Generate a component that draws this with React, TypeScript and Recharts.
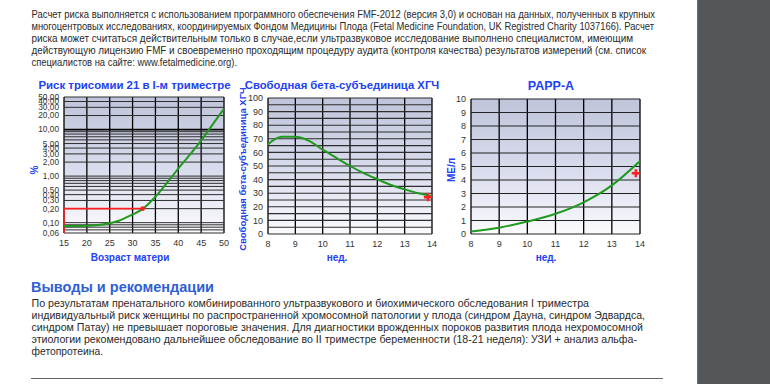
import React from "react";
import {
  ComposedChart,
  Line,
  Scatter,
  XAxis,
  YAxis,
  CartesianGrid,
  ReferenceLine,
} from "recharts";

// ---------- Text content ----------
const introLines = [
  "Расчет риска выполняется с использованием программного обеспечения FMF-2012 (версия 3,0) и основан на данных, полученных в крупных",
  "многоцентровых исследованиях, координируемых Фондом Медицины Плода (Fetal Medicine Foundation, UK Registred Charity 1037166). Расчет",
  "риска может считаться действительным только в случае,если ультразвуковое исследование выполнено специалистом, имеющим",
  "действующую лицензию FMF и своевременно проходящим процедуру аудита (контроля качества) результатов измерений (см. список",
  "специалистов на сайте: www.fetalmedicine.org).",
];
const conclusionTitle = "Выводы и рекомендации";
const conclusionLines = [
  "По результатам пренатального комбинированного ультразвукового и биохимического обследования I триместра",
  "индивидуальный риск женщины по распространенной хромосомной патологии у плода (синдром Дауна, синдром Эдвардса,",
  "синдром Патау) не превышает пороговые значения. Для диагностики врожденных пороков развития плода нехромосомной",
  "этиологии рекомендовано дальнейшее обследование во II триместре беременности (18-21 неделя): УЗИ + анализ альфа-",
  "фетопротеина.",
];

// ---------- Chart 1: trisomy 21 risk ----------
const riskAges = [15, 18, 20, 22, 25, 27, 30, 32, 35, 38, 40, 42, 45, 48, 50];
const riskValues = [0.085, 0.085, 0.086, 0.088, 0.097, 0.11, 0.15, 0.19, 0.36, 0.82, 1.45, 2.5, 5.8, 15, 28];
const ageTicks = [15, 20, 25, 30, 35, 40, 45, 50];
const riskTicks = [0.06, 0.1, 0.2, 0.3, 0.4, 0.5, 1, 2, 3, 4, 5, 10, 20, 30, 40, 50];
const riskGrid = [
  0.06, 0.07, 0.08, 0.09, 0.1, 0.2, 0.3, 0.4, 0.5, 0.6, 0.7, 0.8, 0.9, 1, 2, 3, 4, 5, 6, 7, 8, 9, 10, 20, 30, 40, 50,
];
const riskDomain = [0.06, 50];
const patientAge = 32.2;
const patientRisk = 0.2;

// ---------- Chart 2: free beta-hCG ----------
const hcgWeeks = [8, 8.5, 9, 9.5, 10, 10.5, 11, 11.5, 12, 12.5, 13, 13.5, 14];
const hcgValues = [66, 71.5, 71.5, 68.5, 62, 56, 50, 44.8, 40.3, 36, 32.8, 30, 28];
const weekTicks = [8, 9, 10, 11, 12, 13, 14];
const hcgTicks = [0, 10, 20, 30, 40, 50, 60, 70, 80, 90, 100];
const hcgGrid = [0, 5, 10, 15, 20, 25, 30, 35, 40, 45, 50, 55, 60, 65, 70, 75, 80, 85, 90, 95, 100];
const hcgPatientWeek = 13.85;
const hcgPatientValue = 27;

// ---------- Chart 3: PAPP-A ----------
const pappWeeks = [8, 9, 10, 11, 12, 13, 14];
const pappValues = [0.18, 0.47, 0.92, 1.5, 2.35, 3.6, 5.4];
const pappTicks = [0, 1, 2, 3, 4, 5, 6, 7, 8, 9, 10];
const pappPatientWeek = 13.85;
const pappPatientValue = 4.5;

const riskData = riskAges.map((x, i) => ({ x, y: riskValues[i] }));
const riskMarkerPath = [
  { x: riskAges[0], y: riskDomain[0] },
  { x: riskAges[0], y: patientRisk },
  { x: patientAge, y: patientRisk },
];
const riskPoint = [{ x: patientAge, y: patientRisk }];
const hcgData = hcgWeeks.map((x, i) => ({ x, y: hcgValues[i] }));
const hcgPoint = [{ x: hcgPatientWeek, y: hcgPatientValue }];
const pappData = pappWeeks.map((x, i) => ({ x, y: pappValues[i] }));
const pappPoint = [{ x: pappPatientWeek, y: pappPatientValue }];

// ---------- layout (text line geometry) ----------
const TEXT_LEFT = 31.5;
const introLayout = { baselines: [18, 29.9, 41.8, 53.7, 65.6], ends: [655, 654, 633, 646, 237] };
const conclLayout = { baselines: [306.6, 318.7, 330.8, 342.9, 355], ends: [589, 645, 643, 637, 103] };

const FONT = '"Liberation Sans", Arial, Helvetica, sans-serif';
const BLUE = "#2141f2";
const GREEN = "#1f9a1f";
const RED = "#ff2020";
const TICK = { fontSize: 9, fill: "#333", fontFamily: FONT };

const Plus = (props: any) => {
  const { cx, cy } = props;
  if (cx == null || cy == null) return null;
  return (
    <path
      d={`M${cx - 4},${cy}h8M${cx},${cy - 4}v8`}
      stroke={RED}
      strokeWidth={2.4}
      fill="none"
    />
  );
};

const Dot = (props: any) => {
  const { cx, cy } = props;
  if (cx == null || cy == null) return null;
  return <circle cx={cx} cy={cy} r={2.3} fill={RED} />;
};

const Grad = ({ id }: { id: string }) => (
  <defs>
    <linearGradient id={id} x1="0" y1="0" x2="0" y2="1">
      <stop offset="0%" stopColor="#bfc4da" />
      <stop offset="55%" stopColor="#dadded" />
      <stop offset="100%" stopColor="#fbfbfe" />
    </linearGradient>
  </defs>
);

const abs = (left: number, top: number, extra: React.CSSProperties = {}): React.CSSProperties => ({
  position: "absolute",
  left,
  top,
  ...extra,
});

const centerText = (
  x: number,
  y: number,
  text: string,
  size: number,
  rotate = false,
  color = BLUE
) => (
  <div
    style={{
      position: "absolute",
      left: x,
      top: y,
      transform: `translate(-50%, -50%)${rotate ? " rotate(-90deg)" : ""}`,
      whiteSpace: "nowrap",
      fontWeight: "bold",
      fontSize: size,
      color,
      fontFamily: FONT,
      lineHeight: 1,
    }}
  >
    {text}
  </div>
);

const Paragraph = ({
  lines,
  layout,
}: {
  lines: string[];
  layout: { baselines: number[]; ends: number[] };
}) => (
  <svg
    width={770}
    height={384}
    style={{ position: "absolute", left: 0, top: 0, pointerEvents: "none" }}
  >
    {lines.map((l, i) => (
      <text
        key={i}
        x={TEXT_LEFT}
        y={layout.baselines[i]}
        fontSize={10.5}
        fontFamily={FONT}
        fill="#2a2a2a"
        textLength={layout.ends[i] - TEXT_LEFT}
        lengthAdjust="spacingAndGlyphs"
      >
        {l}
      </text>
    ))}
  </svg>
);

export default function App() {
  return (
    <div
      style={{
        position: "absolute",
        left: 0,
        top: 0,
        width: 770,
        height: 384,
        background: "#ffffff",
        overflow: "hidden",
        fontFamily: FONT,
      }}
    >
      {/* paragraphs */}
      <Paragraph lines={introLines} layout={introLayout} />
      <Paragraph lines={conclusionLines} layout={conclLayout} />

      {/* chart titles */}
      {centerText(134.5, 86, "Риск трисомии 21 в I-м триместре", 11.4)}
      {centerText(342, 86, "Свободная бета-субъединица ХГЧ", 11.3)}
      {centerText(551, 86, "PAPP-A", 12.5)}

      {/* axis titles */}
      {centerText(35, 170, "%", 10, true)}
      {centerText(130, 258, "Возраст матери", 10)}
      {centerText(243, 169, "Свободная бета-субъединица ХГЧ", 9.5, true)}
      {centerText(337, 258, "нед.", 10)}
      {centerText(452, 170, "МЕ/л", 10, true)}
      {centerText(546, 258, "нед.", 10)}

      {/* Chart 1 */}
      <div style={abs(0, 80)}>
        <ComposedChart width={236} height={190} margin={{ top: 17, right: 12, left: 6, bottom: 17 }}>
          <Grad id="bg1" />
          <CartesianGrid horizontal={false} stroke="#000" strokeWidth={1.3} fill="url(#bg1)" fillOpacity={1} />
          <XAxis
            type="number"
            dataKey="x"
            domain={[ageTicks[0], ageTicks[ageTicks.length - 1]]}
            ticks={ageTicks}
            interval={0}
            tick={TICK}
            tickLine={false}
            axisLine={false}
            tickSize={5}
            tickMargin={2}
            height={20}
            allowDataOverflow
          />
          <YAxis
            type="number"
            scale="log"
            domain={riskDomain}
            ticks={riskTicks}
            interval={0}
            tick={{ ...TICK, fontSize: 8.3 }}
            tickFormatter={(v: number) => v.toFixed(2).replace(".", ",")}
            tickLine={false}
            axisLine={false}
            tickSize={3}
            tickMargin={2}
            width={58}
            allowDataOverflow
          />
          {riskGrid.map((v) => (
            <ReferenceLine
              key={v}
              y={v}
              stroke={v === 10 ? "#000" : "#2e2e2e"}
              strokeWidth={v === 10 ? 1.7 : 1}
            />
          ))}
          <Line data={riskMarkerPath} dataKey="y" type="linear" stroke={RED} strokeWidth={1.6} dot={false} isAnimationActive={false} />
          <Line data={riskData} dataKey="y" type="monotone" stroke={GREEN} strokeWidth={2} dot={false} isAnimationActive={false} />
          <Scatter data={riskPoint} dataKey="y" shape={<Dot />} isAnimationActive={false} />
        </ComposedChart>
      </div>

      {/* Chart 2 */}
      <div style={abs(232, 80)}>
        <ComposedChart width={212} height={190} margin={{ top: 18, right: 12, left: 6, bottom: 16 }}>
          <Grad id="bg2" />
          <CartesianGrid horizontal={false} stroke="#000" strokeWidth={1.3} fill="url(#bg2)" fillOpacity={1} />
          <XAxis
            type="number"
            dataKey="x"
            domain={[weekTicks[0], weekTicks[weekTicks.length - 1]]}
            ticks={weekTicks}
            interval={0}
            tick={TICK}
            tickLine={false}
            axisLine={false}
            tickSize={5}
            tickMargin={2}
            height={20}
            allowDataOverflow
          />
          <YAxis
            type="number"
            domain={[hcgTicks[0], hcgTicks[hcgTicks.length - 1]]}
            ticks={hcgTicks}
            interval={0}
            tick={TICK}
            tickLine={false}
            axisLine={false}
            tickSize={3}
            tickMargin={2}
            width={30}
          />
          {hcgGrid.map((v) => (
            <ReferenceLine key={v} y={v} stroke="#2e2e2e" strokeWidth={1.1} />
          ))}
          <Line data={hcgData} dataKey="y" type="monotone" stroke={GREEN} strokeWidth={2} dot={false} isAnimationActive={false} />
          <Scatter data={hcgPoint} dataKey="y" shape={<Plus />} isAnimationActive={false} />
        </ComposedChart>
      </div>

      {/* Chart 3 */}
      <div style={abs(440, 80)}>
        <ComposedChart width={210} height={190} margin={{ top: 19, right: 10, left: 6, bottom: 16 }}>
          <Grad id="bg3" />
          <CartesianGrid horizontal={false} stroke="#000" strokeWidth={1.3} fill="url(#bg3)" fillOpacity={1} />
          <XAxis
            type="number"
            dataKey="x"
            domain={[weekTicks[0], weekTicks[weekTicks.length - 1]]}
            ticks={weekTicks}
            interval={0}
            tick={TICK}
            tickLine={false}
            axisLine={false}
            tickSize={5}
            tickMargin={2}
            height={20}
            allowDataOverflow
          />
          <YAxis
            type="number"
            domain={[pappTicks[0], pappTicks[pappTicks.length - 1]]}
            ticks={pappTicks}
            interval={0}
            tick={TICK}
            tickLine={false}
            axisLine={false}
            tickSize={3}
            tickMargin={2}
            width={25}
          />
          {pappTicks.map((v) => (
            <ReferenceLine key={v} y={v} stroke="#222" strokeWidth={1.2} />
          ))}
          <Line data={pappData} dataKey="y" type="monotone" stroke={GREEN} strokeWidth={2} dot={false} isAnimationActive={false} />
          <Scatter data={pappPoint} dataKey="y" shape={<Plus />} isAnimationActive={false} />
        </ComposedChart>
      </div>

      {/* conclusions heading */}
      <div
        style={abs(31, 279.5, {
          fontSize: 14.5,
          fontWeight: "bold",
          color: "#2f5fd6",
          whiteSpace: "nowrap",
          lineHeight: 1,
        })}
      >
        {conclusionTitle}
      </div>
      <div style={abs(31, 377.5, { width: 632, height: 1.5, background: "#666" })} />

      {/* dark side panel */}
      <div style={abs(697, 0, { width: 73, height: 384, background: "#53575a", borderLeft: "1px solid #6c6f72" })} />
    </div>
  );
}
